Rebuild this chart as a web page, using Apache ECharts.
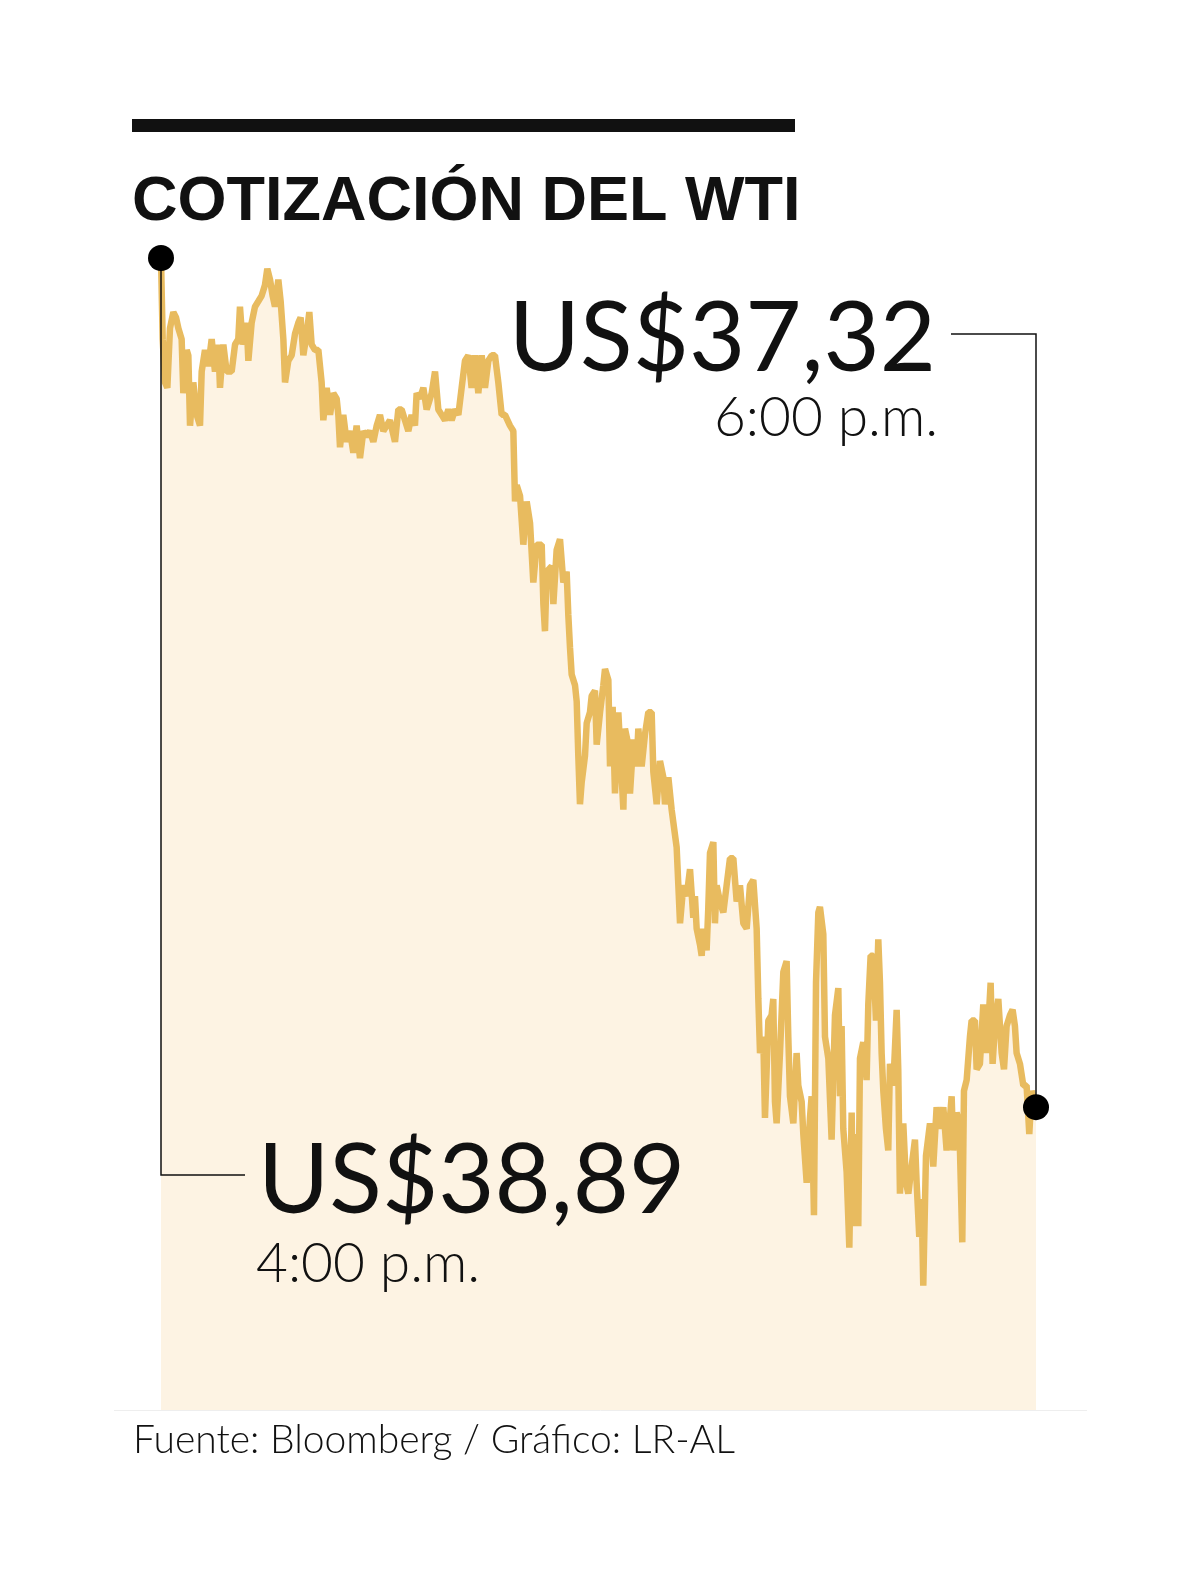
<!DOCTYPE html>
<html>
<head>
<meta charset="utf-8">
<script src="https://cdn.jsdelivr.net/npm/echarts@6/dist/echarts.min.js"></script>
<style>
html,body{margin:0;padding:0;background:#fff;}
#c{width:1200px;height:1581px;}
</style>
</head>
<body>
<div id="c"></div>
<script>
// Title and texts
const titleText = 'COTIZACIÓN DEL WTI';
const openLabel = 'US$38,89';
const openTime = '4:00 p.m.';
const closeLabel = 'US$37,32';
const closeTime = '6:00 p.m.';
const sourceText = 'Fuente: Bloomberg / Gráfico: LR-AL';

// Minutes after 4:00 p.m.
const minutes = [
0,0.23,0.55,0.87,1.23,1.69,2.06,2.38,2.83,3.06,3.52,3.75,3.98,4.43,4.89,5.35,5.58,6.03,6.49,6.95,
7.40,7.86,8.09,8.55,9.00,9.69,10.15,10.60,10.83,11.20,11.75,11.98,12.43,12.89,13.35,13.80,14.26,14.58,14.95,15.31,
15.63,16.09,16.41,16.78,17.01,17.46,17.92,18.38,18.83,19.15,19.52,19.98,20.34,20.66,21.12,21.58,22.03,22.26,22.72,23.18,
23.63,24.09,24.32,24.55,25.00,25.46,25.92,26.38,26.83,27.29,27.75,28.20,28.66,29.12,29.58,30.03,30.49,30.95,31.40,32.09,
32.55,33.00,33.46,33.92,34.37,34.83,35.06,35.52,35.98,36.43,37.12,37.58,38.03,38.49,38.95,39.41,39.86,40.32,40.78,41.23,
41.69,42.15,42.60,43.06,43.52,43.98,44.43,44.89,45.35,45.80,46.26,46.72,47.18,47.86,48.32,48.55,48.78,49.24,49.69,50.15,
50.61,51.06,51.52,52.21,52.44,52.66,52.89,53.58,53.81,54.26,54.72,55.18,55.63,55.86,56.09,56.32,56.78,57.01,57.23,57.46,
57.69,58.15,58.38,58.83,59.06,59.52,59.75,60.21,60.66,60.89,61.35,61.58,61.94,62.26,62.72,62.95,63.41,63.63,64.09,64.32,
64.78,65.23,65.46,65.92,66.38,66.83,67.29,67.52,67.98,68.43,68.89,69.12,69.58,70.03,70.72,70.95,71.18,71.63,72.09,72.55,
73.00,73.23,73.46,73.92,74.15,74.37,74.83,75.06,75.29,75.75,75.97,76.20,76.66,77.12,77.57,78.03,78.49,78.95,79.40,79.86,
80.32,80.77,81.23,81.69,81.92,82.15,82.60,82.83,83.29,83.74,83.97,84.20,84.43,84.89,85.35,85.80,86.03,86.26,86.72,87.17,
87.40,87.86,88.09,88.55,89.00,89.23,89.55,89.83,90.15,90.37,90.83,91.06,91.52,91.97,92.43,92.89,93.12,93.34,93.57,94.03,
94.40,94.72,94.94,95.40,95.63,95.86,96.31,96.77,97.00,97.32,97.69,98.05,98.37,98.60,98.83,99.06,99.42,99.74,99.97,100.43,
100.89,101.11,101.34,101.80,102.17,102.49,102.94,103.40,103.63,103.99,104.31,104.54,104.91,105.46,105.91,106.37,106.83,107.29,107.74,108.20,
108.43,108.66,109.11,109.48,109.89,110.12,110.49,110.94,111.17,111.63,111.86,112.31,112.77,113.14,113.46,113.78,114.05,114.37,114.83,115.29,
115.61,115.97,116.43,116.79,117.11,117.34,117.80,118.26,118.71,119.08,119.40,120
];

// WTI price (US$)
const prices = [
38.89,38.74,38.66,38.65,38.76,38.79,38.78,38.76,38.74,38.64,38.72,38.71,38.58,38.66,38.60,38.58,38.68,38.72,38.69,38.74,
38.68,38.73,38.65,38.73,38.68,38.68,38.73,38.74,38.80,38.73,38.77,38.70,38.77,38.80,38.81,38.82,38.84,38.87,38.85,38.82,
38.80,38.85,38.81,38.74,38.66,38.70,38.71,38.75,38.77,38.78,38.71,38.75,38.79,38.73,38.72,38.72,38.66,38.59,38.65,38.60,
38.64,38.63,38.60,38.54,38.60,38.55,38.57,38.53,38.58,38.52,38.57,38.56,38.57,38.55,38.58,38.60,38.57,38.58,38.59,38.55,
38.61,38.61,38.59,38.57,38.60,38.58,38.64,38.63,38.65,38.61,38.64,38.68,38.61,38.60,38.59,38.61,38.59,38.61,38.60,38.65,
38.70,38.71,38.65,38.71,38.64,38.71,38.65,38.70,38.71,38.71,38.66,38.60,38.60,38.58,38.57,38.44,38.47,38.45,38.36,38.44,
38.40,38.29,38.36,38.36,38.25,38.20,38.31,38.32,38.25,38.35,38.37,38.29,38.31,38.23,38.17,38.12,38.10,38.07,37.97,37.88,
37.92,37.97,38.03,38.05,38.08,38.09,37.99,38.05,38.10,38.13,38.11,37.95,38.06,37.90,38.05,37.99,37.87,38.02,37.99,37.90,
38.00,37.95,38.02,37.95,38.01,38.05,38.05,37.94,37.88,37.96,37.93,37.88,37.93,37.87,37.80,37.73,37.66,37.73,37.71,37.76,
37.67,37.71,37.65,37.62,37.60,37.65,37.61,37.69,37.79,37.81,37.66,37.73,37.70,37.68,37.73,37.78,37.78,37.70,37.73,37.66,
37.65,37.73,37.74,37.65,37.52,37.42,37.45,37.30,37.48,37.49,37.52,37.33,37.29,37.42,37.57,37.59,37.45,37.34,37.29,37.42,
37.36,37.33,37.27,37.18,37.30,37.34,37.12,37.55,37.68,37.69,37.64,37.45,37.41,37.26,37.49,37.54,37.34,37.47,37.28,37.20,
37.06,37.31,37.10,37.27,37.10,37.41,37.44,37.37,37.51,37.60,37.60,37.48,37.63,37.55,37.42,37.35,37.28,37.24,37.40,37.36,
37.50,37.39,37.16,37.29,37.18,37.16,37.21,37.26,37.18,37.08,37.15,36.99,37.23,37.29,37.21,37.32,37.28,37.32,37.24,37.30,
37.34,37.24,37.31,37.29,37.07,37.35,37.37,37.45,37.48,37.48,37.39,37.40,37.51,37.42,37.47,37.55,37.40,37.47,37.52,37.42,
37.39,37.47,37.49,37.50,37.47,37.42,37.40,37.36,37.36,37.27,37.35,37.32
];

const yMin = 36.76;
const yMax = 38.89;

const lineData = minutes.map((m, i) => [m, prices[i]]);
const endpoints = [[minutes[0], prices[0]], [minutes[minutes.length - 1], prices[prices.length - 1]]];

const chart = echarts.init(document.getElementById('c'), null, {renderer: 'canvas'});

const option = {
  backgroundColor: '#ffffff',
  animation: false,
  grid: {left: 161, right: 164, top: 258, bottom: 171},
  xAxis: {type: 'value', min: 0, max: 120, show: false},
  yAxis: {type: 'value', min: yMin, max: yMax, show: false},
  series: [
    {
      type: 'line',
      data: lineData,
      showSymbol: false,
      clip: false,
      lineStyle: {color: '#E8BB5F', width: 6.5, join: 'bevel'},
      areaStyle: {color: '#FDF3E3', origin: 'start', opacity: 1},
      z: 2
    },
    {
      type: 'scatter',
      data: endpoints,
      symbolSize: 26,
      itemStyle: {color: '#000000', opacity: 1},
      clip: false,
      z: 5
    }
  ]
};
chart.setOption(option);

const pStart = chart.convertToPixel({gridIndex: 0}, endpoints[0]);
const pEnd = chart.convertToPixel({gridIndex: 0}, endpoints[1]);
const pBottom = chart.convertToPixel({gridIndex: 0}, [0, yMin]);

const txt = (text, x, y, font, align) => ({
  type: 'text',
  z: 10,
  style: {text: text, x: x, y: y, font: font, fill: '#111111', align: align || 'left', verticalAlign: 'middle', lineHeight: 0}
});

chart.setOption({
  graphic: [
    {type: 'rect', shape: {x: 132, y: 119, width: 663, height: 13}, style: {fill: '#111111'}},
    txt(titleText, 132, 203, 'bold 63px "Liberation Sans"'),
    {type: 'line', shape: {x1: 114, y1: pBottom[1] + 0.5, x2: 1087, y2: pBottom[1] + 0.5}, style: {stroke: '#eeeeee', lineWidth: 1}},
    {type: 'polyline', z: 4, shape: {points: [[pStart[0], pStart[1]], [pStart[0], 1175], [245, 1175]]}, style: {stroke: '#111111', lineWidth: 1.5, fill: null}},
    {type: 'polyline', z: 4, shape: {points: [[951, 334], [pEnd[0], 334], [pEnd[0], pEnd[1]]]}, style: {stroke: '#111111', lineWidth: 1.5, fill: null}},
    txt(closeLabel, 936, 340, '400 97px Lato', 'right'),
    txt(closeTime, 938, 418, '300 55px Lato', 'right'),
    txt(openLabel, 258, 1182, '400 97px Lato'),
    txt(openTime, 256, 1264, '300 55px Lato'),
    txt(sourceText, 133, 1440, '300 39px Lato')
  ]
});
</script>
</body>
</html>
